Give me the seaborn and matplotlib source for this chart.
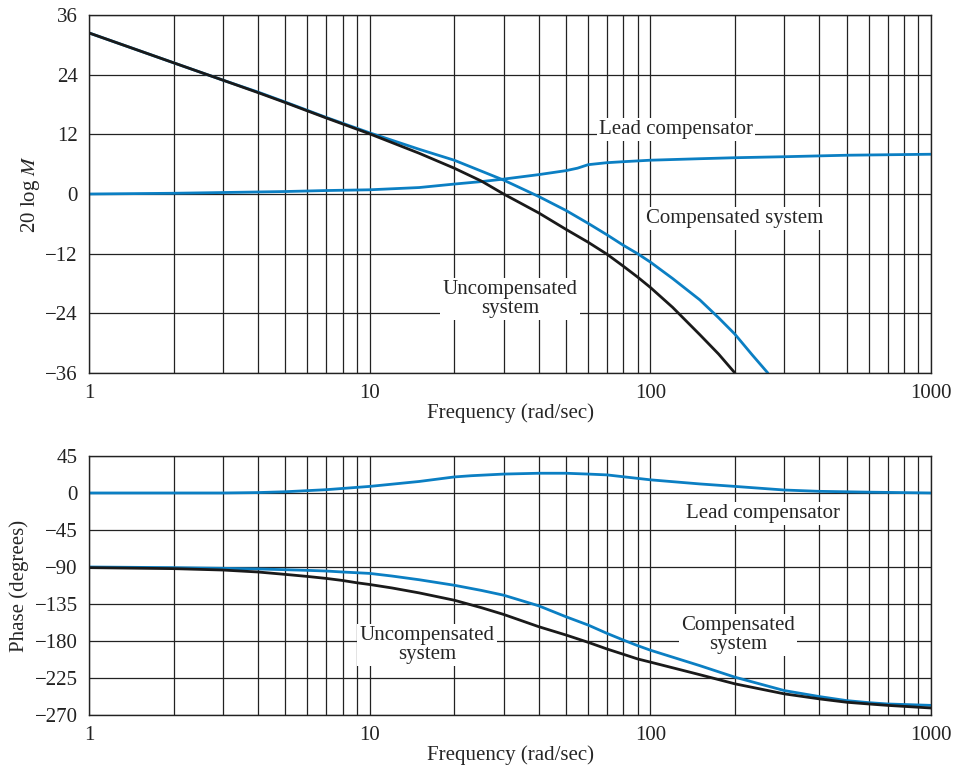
import numpy as np
import pandas as pd
import seaborn as sns
import matplotlib.pyplot as plt

# magnitude plot values
freq_mag = [1, 2, 3, 4, 5, 7, 10, 15, 20, 25, 30, 40, 50, 60, 70, 80, 90, 100, 120, 150, 175, 200, 230, 262]
uncomp_mag = [32.4, 26.4, 22.9, 20.4, 18.4, 15.3, 12.1, 8.2, 5.2, 2.6, 0.0, -3.8, -7.1, -9.7, -12.1, -14.5,
              -16.7, -18.8, -22.8, -28.3, -32.2, -36.0, np.nan, np.nan]
comp_mag = [32.4, 26.4, 22.9, 20.5, 18.5, 15.4, 12.3, 9.0, 6.8, 4.6, 2.8, -0.5, -3.3, -5.9, -8.2, -10.3,
            -12.0, -13.7, -17.0, -21.3, -24.9, -28.2, -32.3, -36.0]
freq_lead = [1, 2, 3, 5, 7, 10, 15, 20, 25, 30, 40, 50, 55, 60, 70, 80, 100, 150, 200, 300, 500, 1000]
lead_mag = [0.0, 0.15, 0.3, 0.5, 0.7, 0.85, 1.3, 2.0, 2.5, 3.0, 3.9, 4.7, 5.2, 5.9, 6.3, 6.5, 6.8, 7.1, 7.3,
            7.5, 7.8, 8.0]

# phase plot values
freq_ph = [1, 2, 3, 4, 5, 6, 7, 8, 9, 10, 12, 15, 20, 25, 30, 40, 50, 60, 70, 80, 90, 100, 150, 200, 300,
           400, 500, 600, 700, 1000]
uncomp_ph = [-90.8, -92, -93.7, -96.1, -99, -101.5, -103.9, -106.4, -109.2, -111.3, -115.5, -121.5, -130.4,
             -139.5, -147.7, -162.6, -172.7, -181.6, -189.7, -196.1, -201.8, -205.7, -221, -232.1, -244.3,
             -250.4, -254.5, -256.6, -258.3, -261.5]
comp_ph = [-90, -90.8, -91.6, -92.4, -93.3, -94.1, -94.9, -96.1, -97, -97.8, -101, -105.5, -112.2, -118.5,
           -124.3, -137.2, -150.5, -160.6, -170.7, -178.8, -185.6, -191.2, -210, -224, -240.3, -247.6,
           -252.5, -255, -256.6, -258.3]
freq_lead_ph = [1, 2, 3, 4, 5, 7, 10, 15, 20, 23, 30, 40, 50, 60, 70, 100, 150, 200, 300, 400, 600, 1000]
lead_ph = [0, 0, 0, 0.5, 1.5, 4, 8, 14, 19.5, 21, 23, 24, 24, 23, 22, 16, 11, 8, 3.6, 2, 1, 0]

blue = '#0b7fc3'
black = '#1a1a1a'

sns.set_theme(style='white')
plt.rcParams['font.family'] = ['Liberation Serif', 'DejaVu Serif']
plt.rcParams['mathtext.fontset'] = 'stix'

fig = plt.figure(figsize=(9.55, 7.67), dpi=100)
ax1 = fig.add_axes([0.0932, 0.5137, 0.8818, 0.4667])
ax2 = fig.add_axes([0.0932, 0.0678, 0.8818, 0.3377])

mag = pd.DataFrame({'f': freq_mag, 'unc': uncomp_mag, 'comp': comp_mag})
lead = pd.DataFrame({'f': freq_lead, 'lead': lead_mag})
ph = pd.DataFrame({'f': freq_ph, 'unc': uncomp_ph, 'comp': comp_ph})
lead_p = pd.DataFrame({'f': freq_lead_ph, 'lead': lead_ph})

for ax in (ax1, ax2):
    ax.set_xscale('log')

sns.lineplot(data=lead, x='f', y='lead', ax=ax1, color=blue, lw=2.0)
sns.lineplot(data=mag, x='f', y='comp', ax=ax1, color=blue, lw=2.0)
sns.lineplot(data=mag.dropna(), x='f', y='unc', ax=ax1, color=black, lw=2.0)

sns.lineplot(data=lead_p, x='f', y='lead', ax=ax2, color=blue, lw=2.0)
sns.lineplot(data=ph, x='f', y='comp', ax=ax2, color=blue, lw=2.0)
sns.lineplot(data=ph, x='f', y='unc', ax=ax2, color=black, lw=2.0)

minor = [m * d for d in (1, 10, 100) for m in range(2, 10)]
for ax in (ax1, ax2):
    ax.set_xlim(1, 1000)
    ax.set_xticks([1, 10, 100, 1000], labels=['1', '10', '100', '1000'])
    ax.set_xticks(minor, minor=True)
    ax.xaxis.set_minor_formatter(plt.NullFormatter())
    ax.grid(True, which='both', color='#222222', lw=0.9)
    ax.tick_params(which='both', length=0, labelsize=15, pad=8, colors='#222222')
    for s in ax.spines.values():
        s.set_color('#222222')
        s.set_linewidth(1.0)
    ax.set_xlabel('Frequency (rad/sec)', fontsize=15, labelpad=0)

ax1.set_ylim(-36, 36)
ax1.set_yticks(np.arange(-36, 37, 12))
ax1.set_ylabel('20 log $M$', fontsize=15, labelpad=2)
ax2.set_ylim(-270, 45)
ax2.set_yticks(np.arange(-270, 46, 45))
ax2.set_ylabel('Phase (degrees)', fontsize=15, labelpad=4)

box = dict(facecolor='white', edgecolor='none', pad=1.5)
ax1.text(123, 12.9, 'Lead compensator', fontsize=15, ha='center', va='center', bbox=box)
ax1.text(200, -5.0, 'Compensated system', fontsize=15, ha='center', va='center', bbox=box)
ax1.text(31.6, -21.1, 'Uncompensated\nsystem', fontsize=15, ha='center', va='center', linespacing=1.0, bbox=box)
ax2.text(252, -25, 'Lead compensator', fontsize=15, ha='center', va='center', bbox=box)
ax2.text(205, -173, 'Compensated\nsystem', fontsize=15, ha='center', va='center', linespacing=1.0, bbox=box)
ax2.text(16, -185, 'Uncompensated\nsystem', fontsize=15, ha='center', va='center', linespacing=1.0, bbox=box)

plt.savefig('out.png', dpi=100)
